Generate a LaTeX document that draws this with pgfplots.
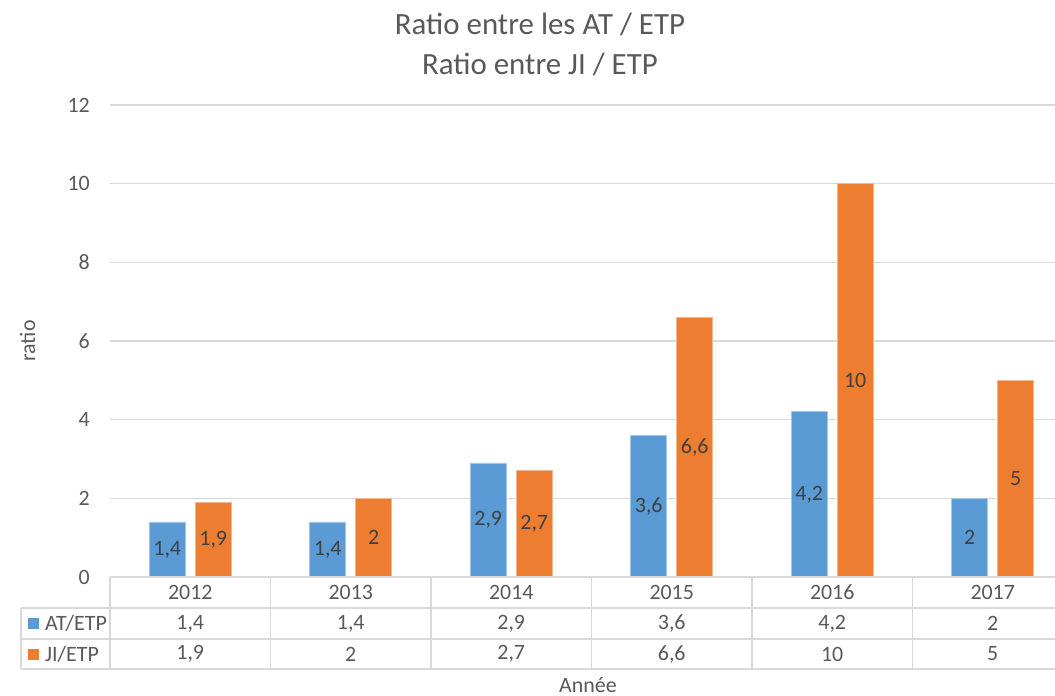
\documentclass[border=0pt]{standalone}
\usepackage{fontspec}
\setmainfont{Carlito}
\usepackage{pgfplots}
\usepackage{pgfplotstable}
\pgfplotsset{compat=1.18}

\definecolor{atblue}{HTML}{5B9BD5}
\definecolor{jiorange}{HTML}{ED7D31}
\definecolor{gridgray}{HTML}{D9D9D9}
\definecolor{txtgray}{HTML}{595959}
\definecolor{lblgray}{HTML}{404040}

\newcommand\fs{\fontsize{22}{26}\selectfont}

% ratios par annee
\pgfplotstableread{
x annee at ji
0 2012 1.4 1.9
1 2013 1.4 2
2 2014 2.9 2.7
3 2015 3.6 6.6
4 2016 4.2 10
5 2017 2 5
}\ratios

\begin{document}
\begin{tikzpicture}
\begin{axis}[
    name=ax,
    scale only axis,
    width=945bp, height=472bp,
    xmin=-0.5, xmax=5.388,
    ymin=0, ymax=12,
    ytick={0,2,...,12},
    xtick={0,...,5},
    xticklabels={2012,2013,2014,2015,2016,2017},
    axis line style={draw=none},
    major tick style={draw=none},
    ymajorgrids,
    grid style={gridgray, line width=1.3bp},
    ticklabel style={font=\fs, text=txtgray, inner sep=0pt},
    yticklabel style={anchor=east, xshift=-20bp},
    xticklabel style={anchor=center, yshift=-15bp},
    /pgf/number format/assume math mode=true,
    /pgf/number format/use comma,
    /pgf/number format/1000 sep={},
    clip=false,
    xlabel={Année},
    xlabel style={font=\fs, text=txtgray, at={(rel axis cs:0.5058,-0.229)}, anchor=center},
    ylabel={ratio},
    ylabel style={font=\fs, text=txtgray, at={(rel axis cs:-0.0873,0.5)}, anchor=center},
    legend image code/.code={\draw[#1, draw=none] (0bp,-5.5bp) rectangle (11bp,5.5bp);},
    legend style={draw=none, fill=none, inner sep=0pt, column sep=6bp, row sep=0pt,
        at={(rel axis cs:-0.0868,-0.1308)}, anchor=west,
        nodes={inner sep=0pt, text height=14.5bp, text depth=0bp, minimum height=31bp,
               font=\fs, text=txtgray}},
    legend cell align=left,
]
% barres
\addplot[ybar, bar width=36bp, bar shift=-23bp, fill=atblue,
    draw=atblue!55!white, line width=0.7bp] table[x=x, y=at] {\ratios};
\addlegendentry{AT/ETP}
\addplot[ybar, bar width=36bp, bar shift=23bp, fill=jiorange,
    draw=jiorange!55!white, line width=0.7bp] table[x=x, y=ji] {\ratios};
\addlegendentry{JI/ETP}

% etiquettes au milieu des barres
\addplot[forget plot, draw=none, mark=none, nodes near coords, point meta=\thisrow{at},
    nodes near coords style={anchor=center, font=\fs, text=lblgray, inner sep=0pt}]
    table[x expr=\thisrow{x}-0.1433, y expr=\thisrow{at}/2] {\ratios};
\addplot[forget plot, draw=none, mark=none, nodes near coords, point meta=\thisrow{ji},
    nodes near coords style={anchor=center, font=\fs, text=lblgray, inner sep=0pt}]
    table[x expr=\thisrow{x}+0.1433, y expr=\thisrow{ji}/2] {\ratios};

% table de donnees sous l'axe
\addplot[forget plot, draw=none, mark=none, nodes near coords, point meta=\thisrow{at},
    nodes near coords style={anchor=center, font=\fs, text=txtgray, inner sep=0pt}]
    table[x=x, y expr=-1.182] {\ratios};
\addplot[forget plot, draw=none, mark=none, nodes near coords, point meta=\thisrow{ji},
    nodes near coords style={anchor=center, font=\fs, text=txtgray, inner sep=0pt}]
    table[x=x, y expr=-1.958] {\ratios};

\draw[gridgray, line width=1.3bp] (axis cs:-0.5,0) -- (axis cs:5.388,0);
\draw[gridgray, line width=1.3bp] (axis cs:-1.0545,-0.788) -- (axis cs:5.388,-0.788);
\draw[gridgray, line width=1.3bp] (axis cs:-1.0545,-1.576) -- (axis cs:5.388,-1.576);
\draw[gridgray, line width=1.3bp] (axis cs:-1.0545,-2.339) -- (axis cs:5.388,-2.339);
\draw[gridgray, line width=1.3bp] (axis cs:-1.0545,-0.788) -- (axis cs:-1.0545,-2.339);
\draw[gridgray, line width=1.3bp] (axis cs:-0.5,0) -- (axis cs:-0.5,-2.339);
\draw[gridgray, line width=1.3bp] (axis cs:0.5,0) -- (axis cs:0.5,-2.339);
\draw[gridgray, line width=1.3bp] (axis cs:1.5,0) -- (axis cs:1.5,-2.339);
\draw[gridgray, line width=1.3bp] (axis cs:2.5,0) -- (axis cs:2.5,-2.339);
\draw[gridgray, line width=1.3bp] (axis cs:3.5,0) -- (axis cs:3.5,-2.339);
\draw[gridgray, line width=1.3bp] (axis cs:4.5,0) -- (axis cs:4.5,-2.339);

\node[font=\fontsize{31}{40}\selectfont, text=txtgray, align=center, anchor=center]
  at (rel axis cs:0.455,1.129) {Ratio entre les AT / ETP\\Ratio entre JI / ETP};
\end{axis}
\pgfresetboundingbox
\path[use as bounding box] ([shift={(-110bp,-119bp)}]ax.south west)
  rectangle ([shift={(0bp,105bp)}]ax.north east);
\end{tikzpicture}
\end{document}
